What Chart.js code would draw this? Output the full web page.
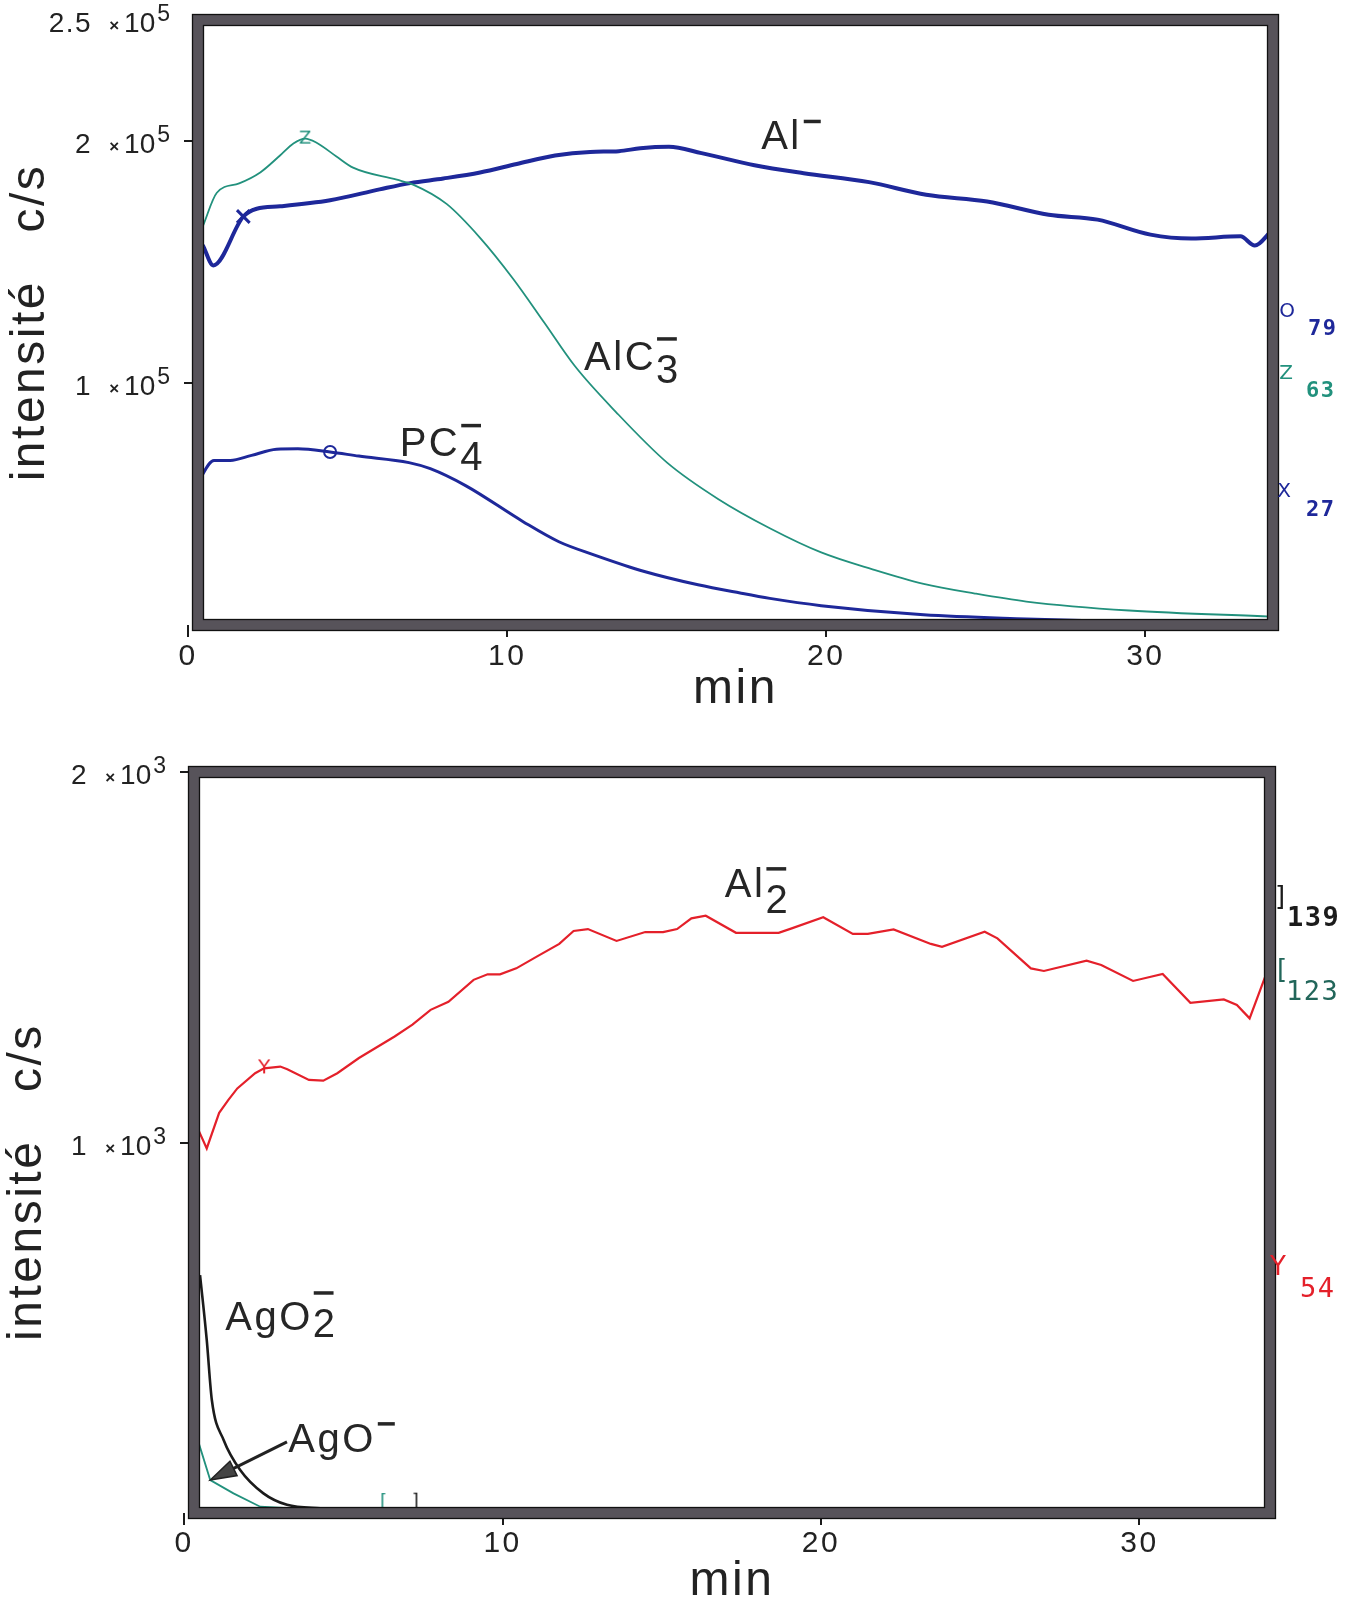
<!DOCTYPE html>
<html lang="fr">
<head>
<meta charset="UTF-8">
<title>Intensité (c/s) en fonction du temps</title>
<script src="https://cdn.jsdelivr.net/npm/chart.js"></script>
<style>
  body { margin: 0; background: #fff; }
  canvas { position: absolute; left: 0; }
  #haut { top: 0; }
  #bas { top: 720px; }
</style>
</head>
<body>
<canvas id="haut" width="1353" height="720"></canvas>
<canvas id="bas" width="1353" height="886"></canvas>
<script>
// ---- panneau du haut (c/s vs min) ----
const alTime   = [0.46, 0.79, 1.73, 2.15, 2.88, 4.45, 6.0, 6.96, 8.0, 9.15, 10.3, 11.5, 12.6, 13.5, 14.17, 15.07, 16.09, 17.75, 19.29, 21.34, 23.13, 25.04, 26.97, 28.5, 30.16, 31.44, 32.98, 33.43, 33.94];
const alCounts = [157000, 148600, 168800, 172000, 173000, 175500, 180000, 182600, 184500, 187000, 190500, 194000, 195500, 195800, 197000, 197600, 195000, 190000, 186700, 183000, 177800, 175000, 169500, 167500, 161300, 159700, 160600, 156800, 162700];

const alc3Time   = [0.46, 0.9, 1.6, 2.26, 2.88, 3.3, 3.67, 4.0, 4.66, 5.17, 6.54, 7.05, 8.1, 9.15, 10.19, 11.16, 12.12, 13.41, 15.02, 16.62, 18.23, 19.84, 21.45, 23.05, 24.66, 26.27, 29.49, 33.95];
const alc3Counts = [164700, 178600, 182500, 187000, 194000, 199000, 201000, 199500, 193500, 189000, 184000, 182000, 174000, 160000, 143000, 125000, 107000, 88000, 67000, 52000, 40000, 30000, 23000, 17000, 13000, 9700, 6000, 3500];

const pc4Time   = [0.31, 0.81, 1.32, 1.99, 2.77, 3.44, 4.45, 5.35, 6.92, 7.59, 8.71, 10.5, 11.62, 12.74, 14.3, 15.98, 17.3, 18.23, 19.84, 23.05, 26.27, 29.49, 33.95];
const pc4Counts = [59100, 68000, 68000, 70100, 72600, 72800, 71500, 69800, 67100, 64600, 57500, 42700, 34400, 28900, 22100, 16600, 13200, 11000, 8000, 4200, 2500, 1300, 500];

// ---- panneau du bas ----
const al2Time   = [0.38, 0.71, 1.1, 1.39, 1.67, 2.23, 2.51, 3.02, 3.24, 3.92, 4.37, 4.81, 5.49, 6.61, 7.17, 7.74, 8.30, 9.09, 9.53, 9.92, 10.43, 11.1, 11.78, 12.23, 12.68, 13.58, 14.48, 15.04, 15.48, 15.93, 16.38, 17.33, 18.67, 19.08, 20.07, 21.0, 21.47, 22.28, 23.45, 23.8, 25.14, 25.54, 26.59, 27.0, 28.34, 28.8, 29.8, 30.73, 31.6, 32.65, 33.06, 33.46, 33.99];
const al2Counts = [1047, 984, 1080, 1115, 1146, 1187, 1200, 1205, 1198, 1169, 1167, 1187, 1228, 1286, 1318, 1358, 1380, 1439, 1454, 1454, 1470, 1503, 1536, 1571, 1576, 1544, 1568, 1568, 1576, 1605, 1612, 1566, 1566, 1578, 1608, 1563, 1563, 1575, 1536, 1528, 1569, 1551, 1470, 1463, 1491, 1479, 1436, 1455, 1377, 1386, 1371, 1335, 1457];

const ago2Time   = [0.5, 0.71, 0.87, 1.24, 1.76, 2.49, 3.23, 4.28, 5.5, 7.26, 10, 15, 20, 27, 34];
const ago2Counts = [642, 467, 305, 197, 116, 53, 22, 13, 10, 9, 7, 5, 4, 3, 3];

const agoTime   = [0.35, 0.82, 1.55, 2.39, 4, 6.26, 10, 20, 34];
const agoCounts = [219, 89, 53, 17, 10, 8, 6, 5, 4];

// repères sur les courbes (min)
const alMark = 1.73, alc3Mark = 3.67, pc4Mark = 4.45;
const al2Mark = 2.51, agoMark = 6.26, ago2Mark = 7.26;

// graduations
const timeTicks = [0, 10, 20, 30];
const topTicks = [100000, 200000, 250000];
const topTickMant = ['1', '2', '2.5'];
const topTickPow = '5';
const bottomTicks = [1000, 2000];
const bottomTickMant = ['1', '2'];
const bottomTickPow = '3';

// noms des ions
const topNames = [
  { base: 'Al', x: 17.96, y: 196500 },
  { base: 'AlC', sub: '3', x: 12.41, y: 105400, drop: 13 },
  { base: 'PC', sub: '4', x: 6.63, y: 70000, drop: 14 }
];
const bottomNames = [
  { base: 'Al', sub: '2', x: 16.98, y: 1663, drop: 16 },
  { base: 'AgO', sub: '2', x: 1.29, y: 494, drop: 7 },
  { base: 'AgO', x: 3.27, y: 165 }
];
const agoArrow = { from: [3.23, 192], to: [0.82, 89] };

// masses en marge droite
const topMasses = [
  { g: 'O', n: '79', y: 129600 },
  { g: 'Z', n: '63', y: 104000 },
  { g: 'X', n: '27', y: 54900 }
];
const bottomMasses = [
  { g: ']', n: '139', y: 1660 },
  { g: '[', n: '123', y: 1463 },
  { g: 'Y', n: '54', y: 661 }
];

const BLUE = '#1e289a', TEAL = '#22917d', RED = '#e4202a', INK = '#1b1b1b';
const FONT = '"Liberation Sans", Arial, sans-serif';
Chart.defaults.font.family = FONT;
Chart.defaults.color = '#222';

function glyph(ch, color, size, lift) {
  const c = document.createElement('canvas');
  c.width = size + 6;
  c.height = size + 6 + 2 * lift;
  const g = c.getContext('2d');
  g.fillStyle = color;
  g.font = size + 'px "DejaVu Sans"';
  g.textAlign = 'center';
  g.textBaseline = 'middle';
  g.fillText(ch, c.width / 2, (size + 6) / 2);
  return c;
}

function series(t, v) {
  return t.map((x, i) => ({ x: x, y: v[i] }));
}

function markAt(times, t, r) {
  const k = times.indexOf(t);
  return ctx => (ctx.dataIndex === k ? r : 0);
}

const spacingPlugin = {
  id: 'spacing',
  beforeDraw(chart) { chart.ctx.letterSpacing = '2.5px'; }
};

const framePlugin = {
  id: 'frame',
  afterDatasetsDraw(chart) {
    const { ctx, chartArea: a } = chart;
    const w = a.right - a.left, h = a.bottom - a.top;
    ctx.save();
    ctx.strokeStyle = '#57535a';
    ctx.lineWidth = 11;
    ctx.strokeRect(a.left, a.top, w, h);
    ctx.strokeStyle = '#111';
    ctx.lineWidth = 1.3;
    ctx.strokeRect(a.left - 5.5, a.top - 5.5, w + 11, h + 11);
    ctx.strokeRect(a.left + 5.5, a.top + 5.5, w - 11, h - 11);
    ctx.restore();
  }
};

const notesPlugin = {
  id: 'notes',
  afterDraw(chart, args, o) {
    const { ctx, chartArea: a } = chart;
    const sx = chart.scales.x, sy = chart.scales.y;
    ctx.save();

    // y tick labels "m ×10^p"
    ctx.letterSpacing = '0px';
    ctx.fillStyle = '#222';
    ctx.textAlign = 'right';
    ctx.textBaseline = 'alphabetic';
    o.yTicks.forEach((v, i) => {
      const py = sy.getPixelForValue(v);
      let r = a.left - 28;
      ctx.font = '23px ' + FONT;
      ctx.fillText(o.pow, r, py + 1);
      r -= ctx.measureText(o.pow).width + 2;
      ctx.font = '28px ' + FONT;
      ctx.fillText('10', r, py + 12);
      r -= ctx.measureText('10').width + 5;
      ctx.font = 'bold 17px ' + FONT;
      ctx.fillText('×', r, py + 11);
      r -= ctx.measureText('×').width + 17;
      ctx.font = '28px ' + FONT;
      ctx.letterSpacing = '1.5px';
      ctx.fillText(o.mant[i], r, py + 12);
      ctx.letterSpacing = '0px';
    });

    // ion names
    ctx.letterSpacing = '2.5px';
    ctx.fillStyle = '#262626';
    ctx.strokeStyle = '#262626';
    ctx.font = '40px ' + FONT;
    ctx.textAlign = 'left';
    (o.names || []).forEach(n => {
      const px = sx.getPixelForValue(n.x), py = sy.getPixelForValue(n.y);
      ctx.fillText(n.base, px, py);
      const w = ctx.measureText(n.base).width;
      let bx, by, bw;
      if (n.sub) {
        const sw = ctx.measureText(n.sub).width;
        ctx.fillText(n.sub, px + w, py + n.drop);
        bx = px + w + 1; by = py + n.drop - 44; bw = sw * 0.8;
      } else {
        bx = px + w + 2; by = py - 28; bw = 17;
      }
      ctx.lineWidth = 3.5;
      ctx.beginPath(); ctx.moveTo(bx, by); ctx.lineTo(bx + bw, by); ctx.stroke();
    });

    if (o.arrow) {
      const x1 = sx.getPixelForValue(o.arrow.from[0]), y1 = sy.getPixelForValue(o.arrow.from[1]);
      const x2 = sx.getPixelForValue(o.arrow.to[0]), y2 = sy.getPixelForValue(o.arrow.to[1]);
      const an = Math.atan2(y2 - y1, x2 - x1), c = Math.cos(an), s = Math.sin(an);
      ctx.strokeStyle = '#222';
      ctx.lineWidth = 3;
      ctx.beginPath(); ctx.moveTo(x1, y1); ctx.lineTo(x2 - 20 * c, y2 - 20 * s); ctx.stroke();
      ctx.fillStyle = '#444';
      ctx.lineWidth = 1.5;
      ctx.beginPath();
      ctx.moveTo(x2, y2);
      ctx.lineTo(x2 - 26 * c + 8 * s, y2 - 26 * s - 8 * c);
      ctx.lineTo(x2 - 26 * c - 8 * s, y2 - 26 * s + 8 * c);
      ctx.closePath(); ctx.fill(); ctx.stroke();
    }

    (o.masses || []).forEach((m, i) => {
      const py = sy.getPixelForValue(m.y);
      const st = o.massStyle[i];
      ctx.fillStyle = st.color;
      ctx.letterSpacing = '0px';
      ctx.font = o.glyphFont;
      ctx.textAlign = 'center';
      ctx.textBaseline = 'middle';
      ctx.fillText(m.g, a.right + st.gx, py);
      ctx.letterSpacing = '1.5px';
      ctx.font = st.font;
      ctx.textAlign = 'left';
      ctx.fillText(m.n, a.right + st.nx, py + st.ny);
    });
    ctx.restore();
  }
};

function panel(id, p) {
  return new Chart(document.getElementById(id), {
    type: 'line',
    data: { datasets: p.datasets },
    options: {
      responsive: false,
      animation: false,
      events: [],
      layout: { padding: p.padding },
      plugins: {
        legend: { display: false },
        tooltip: { enabled: false },
        notes: p.notes
      },
      scales: {
        x: {
          type: 'linear',
          min: p.xMin,
          max: p.xMax,
          afterBuildTicks: s => { s.ticks = timeTicks.map(v => ({ value: v })); },
          afterFit: s => { s.height = p.xHeight; },
          border: { display: false },
          grid: { drawOnChartArea: false, tickLength: 12, color: INK, lineWidth: 2 },
          ticks: { font: { size: 30 }, color: '#222', padding: p.xTickPad, maxRotation: 0, autoSkip: false },
          title: {
            display: true, text: 'min', color: '#222',
            font: { size: 48, lineHeight: 1 },
            padding: { top: 0, bottom: p.minPad }
          }
        },
        y: {
          type: 'linear',
          min: 0,
          max: p.yMax,
          afterBuildTicks: s => { s.ticks = p.notes.yTicks.map(v => ({ value: v })); },
          afterFit: s => { s.width = p.yWidth; },
          border: { display: false },
          grid: {
            drawOnChartArea: false, tickLength: 14, lineWidth: 2,
            color: c => (c.tick && c.tick.value === p.yMax && p.noTopDash ? 'rgba(0,0,0,0)' : INK)
          },
          ticks: { display: false },
          title: {
            display: true, text: p.yTitle, color: '#222',
            font: { size: 48, lineHeight: 1 },
            padding: { top: p.yTitlePad, bottom: 0 }
          }
        }
      }
    },
    plugins: [spacingPlugin, framePlugin, notesPlugin]
  });
}

const NB = '\u00a0';

panel('haut', {
  padding: { left: 0, right: 80, top: 20, bottom: 0 },
  xMin: 0.31, xMax: 34.0, xHeight: 95, xTickPad: 2, minPad: 6,
  yMax: 250000, yWidth: 198, noTopDash: true,
  yTitle: 'intensité' + NB.repeat(3) + 'c/s', yTitlePad: 7,
  datasets: [
    {
      data: series(alc3Time, alc3Counts),
      borderColor: TEAL, borderWidth: 1.8, cubicInterpolationMode: 'monotone',
      pointStyle: glyph('Z', TEAL, 18, 0), pointRadius: markAt(alc3Time, alc3Mark, 6)
    },
    {
      data: series(alTime, alCounts),
      borderColor: BLUE, borderWidth: 4, cubicInterpolationMode: 'monotone',
      pointStyle: 'crossRot', pointBorderColor: BLUE, pointBorderWidth: 3,
      pointRadius: markAt(alTime, alMark, 9)
    },
    {
      data: series(pc4Time, pc4Counts),
      borderColor: BLUE, borderWidth: 3, cubicInterpolationMode: 'monotone',
      pointStyle: 'circle', pointBorderColor: BLUE, pointBackgroundColor: 'rgba(0,0,0,0)',
      pointBorderWidth: 2, pointRadius: markAt(pc4Time, pc4Mark, 6)
    }
  ],
  notes: {
    yTicks: topTicks, mant: topTickMant, pow: topTickPow,
    names: topNames,
    masses: topMasses,
    glyphFont: '20px "DejaVu Sans"',
    massStyle: [
      { color: BLUE, gx: 14, nx: 35, ny: 18, font: 'bold 22px "DejaVu Sans Mono"' },
      { color: TEAL, gx: 13, nx: 33, ny: 18, font: 'bold 22px "DejaVu Sans Mono"' },
      { color: BLUE, gx: 11, nx: 33, ny: 18, font: 'bold 22px "DejaVu Sans Mono"' }
    ]
  }
});

panel('bas', {
  padding: { left: 0, right: 83, top: 52, bottom: 0 },
  xMin: 0.31, xMax: 34.1, xHeight: 93, xTickPad: 1, minPad: 0,
  yMax: 2000, yWidth: 194, noTopDash: false,
  yTitle: 'intensité' + NB.repeat(3) + 'c/s' + NB.repeat(5), yTitlePad: 4,
  datasets: [
    {
      data: series(al2Time, al2Counts),
      borderColor: RED, borderWidth: 2.2, tension: 0,
      pointStyle: glyph('Y', RED, 20, 0), pointRadius: markAt(al2Time, al2Mark, 6)
    },
    {
      data: series(agoTime, agoCounts),
      borderColor: TEAL, borderWidth: 1.8, tension: 0,
      pointStyle: glyph('[', TEAL, 18, 8), pointRadius: markAt(agoTime, agoMark, 6)
    },
    {
      data: series(ago2Time, ago2Counts),
      borderColor: INK, borderWidth: 2.6, cubicInterpolationMode: 'monotone',
      pointStyle: glyph(']', INK, 18, 8), pointRadius: markAt(ago2Time, ago2Mark, 6)
    }
  ],
  notes: {
    yTicks: bottomTicks, mant: bottomTickMant, pow: bottomTickPow,
    names: bottomNames,
    arrow: agoArrow,
    masses: bottomMasses,
    glyphFont: '26px "DejaVu Sans"',
    massStyle: [
      { color: INK, gx: 10, nx: 17, ny: 21, font: 'bold 27px "DejaVu Sans Mono"' },
      { color: '#22665a', gx: 12, nx: 16, ny: 22, font: '27px "DejaVu Sans Mono"' },
      { color: RED, gx: 8, nx: 30, ny: 22, font: '27px "DejaVu Sans Mono"' }
    ]
  }
});
</script>
</body>
</html>
